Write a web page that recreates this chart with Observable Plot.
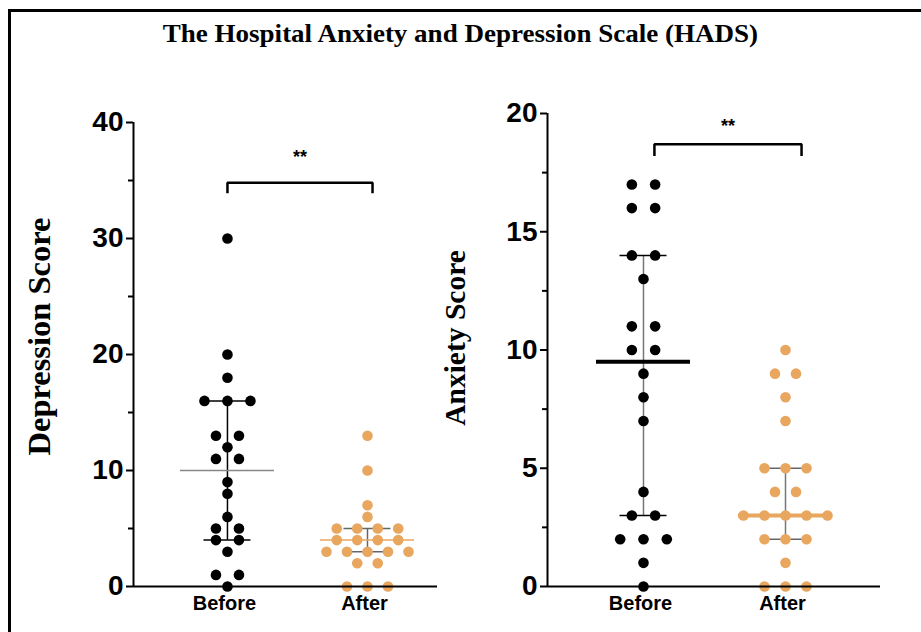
<!DOCTYPE html>
<html>
<head>
<meta charset="utf-8">
<script src="https://cdn.jsdelivr.net/npm/d3@7"></script>
<script src="https://cdn.jsdelivr.net/npm/@observablehq/plot@0.6"></script>
<style>
  body { margin: 0; background: #fff; }
  #root { position: relative; width: 921px; height: 632px; overflow: hidden; background: #fff; }
  #frame { position: absolute; left: 8px; top: 9px; width: 1000px; height: 1000px; border-left: 3px solid #000; border-top: 3px solid #000; }
  #title { position: absolute; left: 0; top: 19px; width: 921px; text-align: center; font-family: "Liberation Serif", serif; font-weight: bold; font-size: 25px; line-height: 30px; transform: scaleX(1.08); transform-origin: 462px 0; }
  #left { position: absolute; left: 0; top: 100px; }
  #right { position: absolute; left: 440px; top: 100px; }
</style>
</head>
<body>
<div id="root">
  <div id="frame"></div>
  <div id="title">The Hospital Anxiety and Depression Scale (HADS)</div>
  <div id="left"></div>
  <div id="right"></div>
</div>
<script>
// ---- data ----
const groups = ["Before", "After"];
const depressionBefore = [30,20,18,16,16,16,13,13,12,11,11,9,8,6,5,5,4,4,3,1,1,0];
const depressionAfter  = [13,10,7,6,5,5,5,5,4,4,4,4,3,3,3,3,3,2,2,0,0,0];
const anxietyBefore    = [17,17,16,16,14,14,13,11,11,10,10,9,8,7,4,3,3,2,2,2,1,0];
const anxietyAfter     = [10,9,9,8,7,5,5,5,4,4,3,3,3,3,3,2,2,2,1,0,0,0];
// median with interquartile range, per group [Before, After]
const depressionMedian = [10, 4];
const depressionQ1     = [4, 3];
const depressionQ3     = [16, 5];
const anxietyMedian    = [9.5, 3];
const anxietyQ1        = [3, 2];
const anxietyQ3        = [14, 5];
const depressionTicks  = [0, 10, 20, 30, 40];
const depressionMinor  = [5, 15, 25, 35];
const anxietyTicks     = [0, 5, 10, 15, 20];
const anxietyMinor     = [2.5, 7.5, 12.5, 17.5];
const significance     = "**";

const ORANGE = "#E8A65F";
const SANS = "Liberation Sans, Arial, sans-serif";
const SERIF = "Liberation Serif, Times New Roman, serif";

function panel(cfg) {
  const frameW = cfg.width - cfg.marginLeft - cfg.marginRight;
  const unit = frameW / (cfg.xDomain[1] - cfg.xDomain[0]);
  const px = p => p / unit;
  const dots = [];
  cfg.series.forEach((vals, gi) => {
    const counts = d3.rollup(vals, v => v.length, d => d);
    const seen = new Map();
    vals.forEach(v => {
      const n = counts.get(v), i = seen.get(v) || 0;
      seen.set(v, i + 1);
      dots.push({x: gi + 1 + px((i - (n - 1) / 2) * cfg.spacing[gi]), y: v, g: gi});
    });
  });
  const stats = groups.map((g, i) => ({g, x: i + 1, med: cfg.median[i], q1: cfg.q1[i], q3: cfg.q3[i]}));
  const b = cfg.bracket;
  const bracketPts = [
    {x: b.x1, y: b.yLow}, {x: b.x1, y: b.yTop}, {x: b.x2, y: b.yTop}, {x: b.x2, y: b.yLow}
  ];
  const yMax = cfg.ticks[cfg.ticks.length - 1];
  return Plot.plot({
    width: cfg.width, height: 532,
    marginLeft: cfg.marginLeft, marginRight: cfg.marginRight,
    marginTop: cfg.marginTop, marginBottom: 46,
    style: {background: "transparent", overflow: "visible"},
    x: {type: "linear", domain: cfg.xDomain, axis: null},
    y: {domain: [0, yMax], axis: null},
    marks: [
      // IQR error bars
      Plot.ruleX(stats, {x: "x", y1: "q1", y2: "q3", stroke: (d, i) => cfg.barColor[i], strokeWidth: 1.5}),
      Plot.ruleY(stats, {y: "q1", x1: d => d.x - px(cfg.cap[d.x - 1]), x2: d => d.x + px(cfg.cap[d.x - 1]), stroke: (d, i) => cfg.capColor[i], strokeWidth: 1.5}),
      Plot.ruleY(stats, {y: "q3", x1: d => d.x - px(cfg.cap[d.x - 1]), x2: d => d.x + px(cfg.cap[d.x - 1]), stroke: (d, i) => cfg.capColor[i], strokeWidth: 1.5}),
      // median
      Plot.ruleY(stats, {y: "med", x1: d => d.x - px(47), x2: d => d.x + px(47), stroke: (d, i) => cfg.medColor[i], strokeWidth: cfg.medWidth}),
      // points
      Plot.dot(dots, {x: "x", y: "y", r: 5.3, fill: d => d.g === 0 ? "#000" : ORANGE, stroke: "none"}),
      // axes lines
      Plot.ruleY([0], {stroke: "#000", strokeWidth: 2}),
      Plot.ruleX([cfg.xDomain[0]], {y1: 0, y2: yMax, stroke: "#000", strokeWidth: 2}),
      Plot.axisY({ticks: cfg.ticks, tickSize: 7, tickPadding: 3, strokeWidth: 2, fontSize: 28, fontWeight: "bold", fontFamily: SANS, fill: "#000", label: null}),
      Plot.axisY({ticks: cfg.minor, tickSize: 5, strokeWidth: 2, tickFormat: () => "", label: null}),
      // category labels
      Plot.text(groups, {x: (d, i) => i + 1, y: 0, dy: 17, dx: -3, text: d => d, fontSize: 20, fontWeight: "bold", fontFamily: SANS, fill: "#000", lineAnchor: "middle"}),
      // y label
      Plot.text([cfg.label], {frameAnchor: "left", textAnchor: "middle", rotate: -90, dx: cfg.labelDx, dy: cfg.labelDy, fontSize: cfg.labelSize, fontWeight: "bold", fontFamily: SERIF, fill: "#000"}),
      // significance bracket
      Plot.line(bracketPts, {x: "x", y: "y", stroke: "#000", strokeWidth: 2.5, strokeLinejoin: "miter", strokeLinecap: "butt"}),
      Plot.text([significance], {x: (b.x1 + b.x2) / 2, y: b.yStar, fontSize: 18, fontWeight: "bold", fontFamily: SANS, fill: "#000", lineAnchor: "middle"})
    ]
  });
}

document.getElementById("left").appendChild(panel({
  width: 440, marginLeft: 133, marginRight: 3, marginTop: 22,
  xDomain: [0.329, 2.5],
  series: [depressionBefore, depressionAfter],
  spacing: [23, 20.5],
  median: depressionMedian, q1: depressionQ1, q3: depressionQ3,
  ticks: depressionTicks, minor: depressionMinor,
  barColor: ["#000", "#666"], capColor: ["#000", "#666"],
  medColor: ["#888", ORANGE], medWidth: 1.5,
  cap: [23.5, 23.5],
  label: "Depression Score", labelDx: -94, labelDy: -18, labelSize: 32.5,
  bracket: {x1: 1, x2: 2.036, yTop: 34.8, yLow: 33.9, yStar: 37}
}));

document.getElementById("right").appendChild(panel({
  width: 450, marginLeft: 107, marginRight: 10, marginTop: 13,
  xDomain: [0.324, 2.669],
  series: [anxietyBefore, anxietyAfter],
  spacing: [23.3, 21],
  median: anxietyMedian, q1: anxietyQ1, q3: anxietyQ3,
  ticks: anxietyTicks, minor: anxietyMinor,
  barColor: ["#777", "#777"], capColor: ["#000", "#666"],
  medColor: ["#000", ORANGE], medWidth: 4,
  cap: [23.5, 21],
  label: "Anxiety Score", labelDx: -92, labelDy: -12, labelSize: 29.5,
  bracket: {x1: 1.077, x2: 2.113, yTop: 18.7, yLow: 18.2, yStar: 19.45}
}));
</script>
</body>
</html>
